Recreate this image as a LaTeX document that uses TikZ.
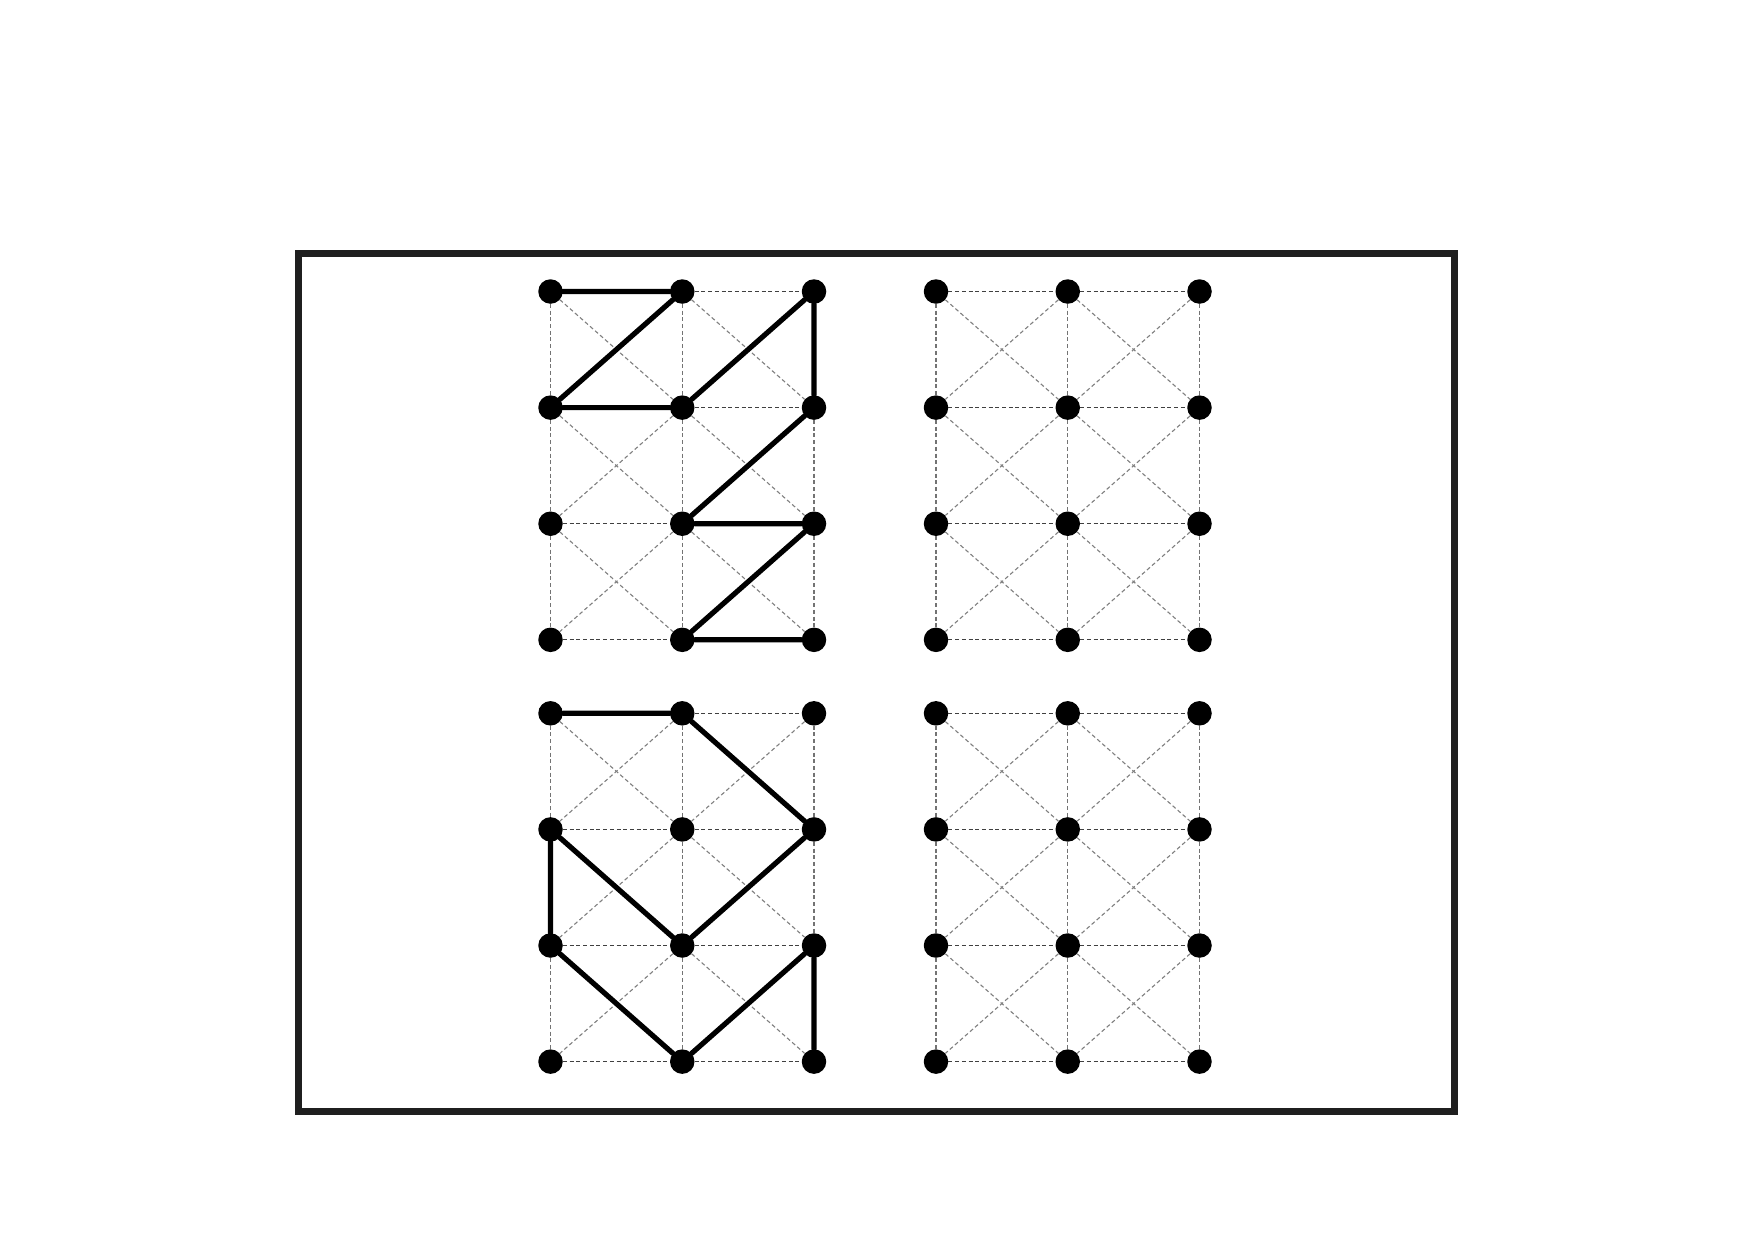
\documentclass[tikz,border=0pt]{standalone}
\begin{document}
\begin{tikzpicture}[x=1pt,y=-1pt,
  dot/.style={circle,fill=black,draw=none,minimum size=24.5pt,inner sep=0pt},
  gridh/.style={draw=black!75,line width=1.1pt,dash pattern=on 4pt off 2.7pt},
  gridv/.style={draw=black!55,line width=1.1pt,dash pattern=on 4pt off 2.7pt},
  gridd/.style={draw=black!50,line width=1.1pt,dash pattern=on 4pt off 2.7pt},
  route/.style={draw=black,line width=5.2pt,line cap=round},
  frame/.style={draw=black!88,line width=7pt}]
\useasboundingbox (0,0) rectangle (1753,1240);
\fill[white] (0,0) rectangle (1753,1240);
\draw[frame] (298.5,253.5) rectangle (1454.5,1111);
\foreach \g/\ox/\oy in {a/550.5/291.5, b/936/291.5, c/550.5/713.3, d/936/713.3} {
  \foreach \i in {1,2,3} {
    \foreach \j in {1,...,4} {
      \node[dot] (\g\i\j) at ({\ox+(\i-1)*131.75},{\oy+(\j-1)*116.1}) {};
    }
  }
  \foreach \j in {1,...,4} {
    \draw[gridh] (\g1\j) -- (\g2\j) -- (\g3\j);
  }
  \foreach \i in {1,2,3} {
    \draw[gridv] (\g\i1) -- (\g\i2) -- (\g\i3) -- (\g\i4);
  }
  \foreach \i [evaluate=\i as \ii using int(\i+1)] in {1,2} {
    \foreach \j [evaluate=\j as \jj using int(\j+1)] in {1,2,3} {
      \draw[gridd] (\g\i\j) -- (\g\ii\jj);
      \draw[gridd] (\g\ii\j) -- (\g\i\jj);
    }
  }
}
\draw[route] (a11) -- (a21) -- (a12) -- (a22) -- (a31) -- (a32) -- (a23) -- (a33) -- (a24) -- (a34);
\draw[route] (c11) -- (c21) -- (c32) -- (c23) -- (c12) -- (c13) -- (c24) -- (c33) -- (c34);
\end{tikzpicture}
\end{document}
